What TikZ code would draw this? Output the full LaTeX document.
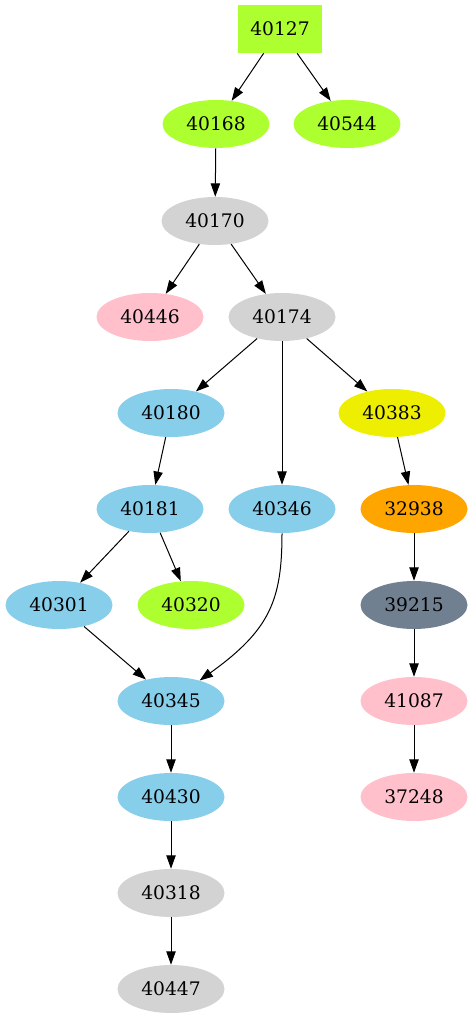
\documentclass[tikz,border=0pt]{standalone}
\usepackage{fontspec}
\setmainfont{DejaVu Serif}
\usetikzlibrary{arrows.meta,shapes.geometric}
\definecolor{cgreen}{HTML}{ADFF2F}
\definecolor{cgray}{HTML}{D3D3D3}
\definecolor{cpink}{HTML}{FFC0CB}
\definecolor{cblue}{HTML}{87CEEB}
\definecolor{cyellow}{HTML}{EEEE00}
\definecolor{corange}{HTML}{FFA500}
\definecolor{cslate}{HTML}{708090}
\begin{document}
\begin{tikzpicture}[x=0.75pt,y=-0.75pt,
  every node/.style={font=\fontsize{14pt}{16pt}\selectfont, inner sep=0pt},
  el/.style={ellipse, minimum width=80.25pt, minimum height=36pt},
  bx/.style={rectangle, minimum width=63pt, minimum height=36pt},
  edge/.style={draw=black, line width=0.75pt, -{Triangle[length=10pt,width=7pt]}}]
\useasboundingbox (0,0) rectangle (473,1019);
\node[bx, fill=cgreen] (n40127) at (280,29) {40127};
\node[el, fill=cgreen] (n40168) at (216,124) {40168};
\node[el, fill=cgreen] (n40544) at (347,124) {40544};
\node[el, fill=cgray] (n40170) at (215,221) {40170};
\node[el, fill=cpink] (n40446) at (150,317) {40446};
\node[el, fill=cgray] (n40174) at (282,317) {40174};
\node[el, fill=cblue] (n40180) at (171,413) {40180};
\node[el, fill=cyellow] (n40383) at (392,413) {40383};
\node[el, fill=cblue] (n40181) at (150,509) {40181};
\node[el, fill=cblue] (n40346) at (282,509) {40346};
\node[el, fill=corange] (n32938) at (414,509) {32938};
\node[el, fill=cblue] (n40301) at (59,605) {40301};
\node[el, fill=cgreen] (n40320) at (191,605) {40320};
\node[el, fill=cslate] (n39215) at (414,605) {39215};
\node[el, fill=cblue] (n40345) at (171,701) {40345};
\node[el, fill=cpink] (n41087) at (414,701) {41087};
\node[el, fill=cblue] (n40430) at (171,797) {40430};
\node[el, fill=cpink] (n37248) at (414,797) {37248};
\node[el, fill=cgray] (n40318) at (171,893) {40318};
\node[el, fill=cgray] (n40447) at (171,989) {40447};
\draw[edge] (n40127) -- (n40168);
\draw[edge] (n40127) -- (n40544);
\draw[edge] (n40168) -- (n40170);
\draw[edge] (n40170) -- (n40446);
\draw[edge] (n40170) -- (n40174);
\draw[edge] (n40174) -- (n40180);
\draw[edge] (n40174) -- (n40346);
\draw[edge] (n40174) -- (n40383);
\draw[edge] (n40180) -- (n40181);
\draw[edge] (n40181) -- (n40301);
\draw[edge] (n40181) -- (n40320);
\draw[edge] (n40301) -- (n40345);
\draw[edge] (n40346.south) .. controls (282,600) and (270,630) .. (n40345);
\draw[edge] (n40383) -- (n32938);
\draw[edge] (n32938) -- (n39215);
\draw[edge] (n39215) -- (n41087);
\draw[edge] (n41087) -- (n37248);
\draw[edge] (n40345) -- (n40430);
\draw[edge] (n40430) -- (n40318);
\draw[edge] (n40318) -- (n40447);
\end{tikzpicture}
\end{document}
